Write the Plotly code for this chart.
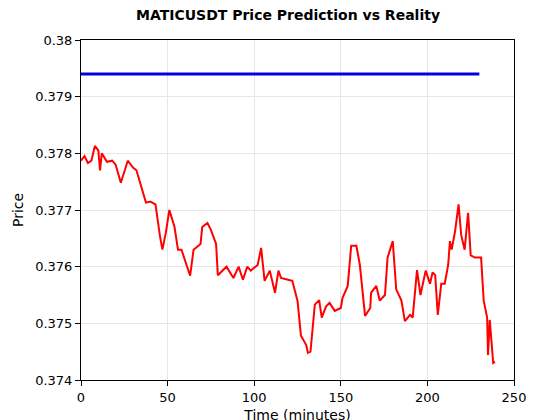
import plotly.graph_objects as go

# reality (red)
real_t = [0, 2, 4, 6, 8, 10, 11, 12, 15, 18, 20, 23, 27, 30, 32, 35, 37.5, 40, 43, 45.6, 47,
          49, 51, 54, 56, 58, 60, 63, 65, 69, 70, 73, 75, 78, 79, 84, 88, 91, 93.5, 96, 98,
          102, 104, 106, 109, 112, 114, 115.5, 119.5, 122, 125, 127, 130, 131, 132.5, 135,
          137.5, 139, 141.5, 143.5, 146.5, 150, 151, 154, 156, 159, 161, 164, 167, 167.5,
          170.5, 172.5, 175.5, 177, 180, 182, 185, 187, 190, 191.5, 194, 196, 199, 201.5,
          203, 204.5, 206, 208, 210, 212, 213, 214, 216, 218, 219.5, 221.5, 223.5, 225,
          227.5, 231, 232.5, 234.5, 235, 236, 238, 239]
real_p = [0.37787, 0.37795, 0.37783, 0.37787, 0.37813, 0.37805, 0.3777, 0.3780, 0.37785,
          0.37787, 0.3778, 0.37748, 0.37787, 0.37775, 0.3777, 0.3774, 0.37713, 0.37715,
          0.3771, 0.37654, 0.3763, 0.3766, 0.3770, 0.3767, 0.3763, 0.3763, 0.37612, 0.37584,
          0.3763, 0.3764, 0.3767, 0.37677, 0.37665, 0.3764, 0.37585, 0.3760, 0.3758, 0.3760,
          0.37577, 0.3760, 0.37593, 0.37603, 0.37633, 0.37575, 0.37593, 0.37554, 0.37593,
          0.3758, 0.37577, 0.37575, 0.3754, 0.37478, 0.37462, 0.37448, 0.3745, 0.37533,
          0.37541, 0.3751, 0.3753, 0.37536, 0.37522, 0.37527, 0.37545, 0.37566, 0.37637,
          0.37637, 0.37603, 0.37513, 0.37527, 0.37554, 0.37566, 0.3754, 0.3755, 0.37616,
          0.37645, 0.3756, 0.3754, 0.37504, 0.37515, 0.3751, 0.37594, 0.3755, 0.37593,
          0.3757, 0.3759, 0.37585, 0.37515, 0.3757, 0.3757, 0.37603, 0.37645, 0.3763,
          0.37663, 0.3771, 0.37656, 0.3763, 0.37695, 0.3762, 0.37616, 0.37616, 0.3754,
          0.3751, 0.37444, 0.37506, 0.3743, 0.37432]

# prediction (blue), flat
pred_t = [0, 230]
pred_p = [0.37940, 0.37940]

fig = go.Figure()
fig.add_trace(go.Scatter(x=pred_t, y=pred_p, mode='lines',
                         line=dict(color='#0000dd', width=3), name='Prediction'))
fig.add_trace(go.Scatter(x=real_t, y=real_p, mode='lines',
                         line=dict(color='red', width=2), name='Reality'))

axis_style = dict(showline=True, linecolor='black', mirror=True, ticks='outside',
                  tickcolor='black', showgrid=True, gridcolor='#e6e6e6', zeroline=False,
                  automargin=False, tickfont=dict(size=13, color='black'))

fig.update_layout(
    width=560, height=420,
    margin=dict(l=73, r=54, t=32, b=48, autoexpand=False),
    plot_bgcolor='white', paper_bgcolor='white',
    font=dict(family='DejaVu Sans', color='black'),
    title=dict(text='<b>MATICUSDT Price Prediction vs Reality</b>', x=0.5, y=0.995,
               xanchor='center', yanchor='top', font=dict(size=14), automargin=False),
    showlegend=False,
    xaxis=dict(range=[0, 250], dtick=50, title=dict(text='Time (minutes)', font=dict(size=14),
                                                   standoff=6), **axis_style),
    yaxis=dict(range=[0.374, 0.380], dtick=0.001, tickformat='~g',
               title=dict(text='Price', font=dict(size=14), standoff=8), **axis_style),
)

fig.write_html("out.html")
